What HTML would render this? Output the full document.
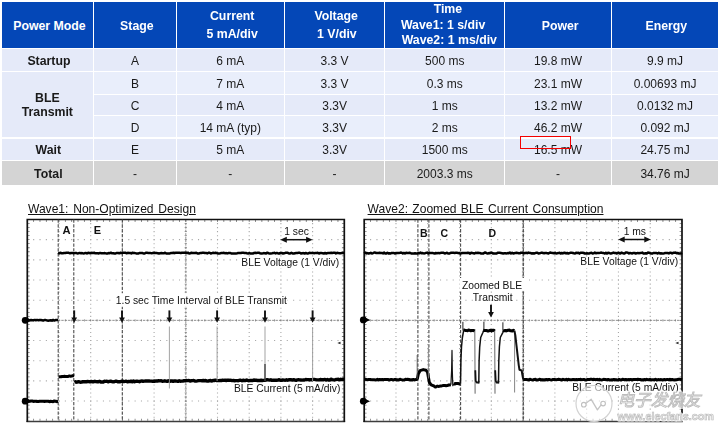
<!DOCTYPE html>
<html><head><meta charset="utf-8"><title>BLE power table</title>
<style>
html,body{margin:0;padding:0;background:#fff;}
body{width:718px;height:427px;position:relative;overflow:hidden;font-family:"Liberation Sans","Noto Sans CJK SC",sans-serif;color:#111;}
.c{position:absolute;display:flex;align-items:center;justify-content:center;text-align:center;font-size:12px;line-height:14.5px;color:#1a1a1a;}
.c.h{color:#fff;font-weight:bold;line-height:16.2px;font-size:12.3px;}
.c.b{font-weight:bold;font-size:12.3px;}
.c.bt{line-height:14.6px;}
.ttl{position:absolute;font-size:12.05px;word-spacing:1.45px;color:#111;text-decoration:underline;white-space:nowrap;line-height:14px;}
svg{position:absolute;left:0;top:0;}
.g{stroke:#a8a8a8;stroke-width:1.1;}
.tk{stroke:#777;}
.cl{stroke:#858585;stroke-width:0.9;stroke-dasharray:2.4 1.0;}
.bx{fill:none;stroke:#111;stroke-width:1.7;}
.d{stroke:#444;stroke-width:1.05;stroke-dasharray:3.3 1.5;}
.w{fill:none;stroke:#000;stroke-linejoin:round;}
.s{font-size:10.3px;fill:#111;font-family:"Liberation Sans",sans-serif;}
.sb{font-size:10.5px;font-weight:bold;fill:#111;font-family:"Liberation Sans",sans-serif;}
.red{position:absolute;left:519.9px;top:136px;width:48.8px;height:11.4px;border:1.6px solid #f40000;}
.wm{position:absolute;color:#b9b9b9;white-space:nowrap;}
#wrap{position:absolute;left:0;top:0;width:718px;height:427px;filter:blur(0.38px);}
</style></head><body><div id="wrap">
<div class="c h" style="left:2.4px;top:2px;width:90.7px;height:45.8px;background:#0447B7;line-height:16px"><span style="position:relative;top:1.0px;left:0px"><span style="display:block;position:relative;left:1.7px">Power Mode</span></span></div><div class="c h" style="left:94.37px;top:2px;width:81.4px;height:45.8px;background:#0447B7;line-height:16px"><span style="position:relative;top:1.0px;left:0px"><span style="display:block;position:relative;left:1.8px">Stage</span></span></div><div class="c h" style="left:176.97px;top:2px;width:106.7px;height:45.8px;background:#0447B7;line-height:17.3px"><span style="position:relative;top:0.9px;left:0px"><span style="display:block;position:relative;left:1.9px">Current</span><span style="display:block;position:relative;left:1.8px">5 mA/div</span></span></div><div class="c h" style="left:284.92px;top:2px;width:99.3px;height:45.8px;background:#0447B7;line-height:17.3px"><span style="position:relative;top:0.9px;left:0px"><span style="display:block;position:relative;left:1.6px">Voltage</span><span style="display:block;position:relative;left:2.3px">1 V/div</span></span></div><div class="c h" style="left:385.47px;top:2px;width:118.5px;height:45.8px;background:#0447B7;line-height:15.9px"><span style="position:relative;top:0.6px;left:0px"><span style="display:block;position:relative;left:3.2px">Time</span><span style="display:block;position:relative;left:-1.6px">Wave1: 1 s/div</span><span style="display:block;position:relative;left:4.6px">Wave2: 1 ms/div</span></span></div><div class="c h" style="left:505.17px;top:2px;width:105.7px;height:45.8px;background:#0447B7;line-height:16px"><span style="position:relative;top:1.0px;left:0px"><span style="display:block;position:relative;left:2.2px">Power</span></span></div><div class="c h" style="left:612.12px;top:2px;width:105.9px;height:45.8px;background:#0447B7;line-height:16px"><span style="position:relative;top:1.0px;left:0px"><span style="display:block;position:relative;left:1.3px">Energy</span></span></div><div class="c b" style="left:2.4px;top:49.169999999999995px;width:90.7px;height:21.4px;background:#E5EAF9"><span style="position:relative;top:1.55px;left:1.2px">Startup</span></div><div class="c b bt" style="left:2.4px;top:71.82000000000001px;width:90.7px;height:65.6px;background:#E5EAF9"><span style="position:relative;top:0.8px;left:-0.4px">BLE<br>Transmit</span></div><div class="c b" style="left:2.4px;top:138.62px;width:90.7px;height:21.6px;background:#E5EAF9"><span style="position:relative;top:0.6px;left:0.6px">Wait</span></div><div class="c b" style="left:2.4px;top:161.42000000000002px;width:90.7px;height:24.0px;background:#D4D4D4"><span style="position:relative;top:0.8px;left:0.6px">Total</span></div><div class="c " style="left:94.37px;top:49.169999999999995px;width:81.4px;height:21.4px;background:#E5EAF9"><span style="position:relative;top:1.45px;left:0px">A</span></div><div class="c " style="left:176.97px;top:49.169999999999995px;width:106.7px;height:21.4px;background:#E5EAF9"><span style="position:relative;top:1.45px;left:0px">6 mA</span></div><div class="c " style="left:284.92px;top:49.169999999999995px;width:99.3px;height:21.4px;background:#E5EAF9"><span style="position:relative;top:1.45px;left:0px">3.3 V</span></div><div class="c " style="left:385.47px;top:49.169999999999995px;width:118.5px;height:21.4px;background:#E5EAF9"><span style="position:relative;top:1.45px;left:0px">500 ms</span></div><div class="c " style="left:505.17px;top:49.169999999999995px;width:105.7px;height:21.4px;background:#E5EAF9"><span style="position:relative;top:1.45px;left:0px">19.8 mW</span></div><div class="c " style="left:612.12px;top:49.169999999999995px;width:105.9px;height:21.4px;background:#E5EAF9"><span style="position:relative;top:1.45px;left:0px">9.9 mJ</span></div><div class="c " style="left:94.37px;top:71.82000000000001px;width:81.4px;height:22.2px;background:#E9EEFB"><span style="position:relative;top:1.0px;left:0px">B</span></div><div class="c " style="left:176.97px;top:71.82000000000001px;width:106.7px;height:22.2px;background:#E9EEFB"><span style="position:relative;top:1.0px;left:0px">7 mA</span></div><div class="c " style="left:284.92px;top:71.82000000000001px;width:99.3px;height:22.2px;background:#E9EEFB"><span style="position:relative;top:1.0px;left:0px">3.3 V</span></div><div class="c " style="left:385.47px;top:71.82000000000001px;width:118.5px;height:22.2px;background:#E9EEFB"><span style="position:relative;top:1.0px;left:0px">0.3 ms</span></div><div class="c " style="left:505.17px;top:71.82000000000001px;width:105.7px;height:22.2px;background:#E9EEFB"><span style="position:relative;top:1.0px;left:0px">23.1 mW</span></div><div class="c " style="left:612.12px;top:71.82000000000001px;width:105.9px;height:22.2px;background:#E9EEFB"><span style="position:relative;top:1.0px;left:0px">0.00693 mJ</span></div><div class="c " style="left:94.37px;top:95.22px;width:81.4px;height:19.7px;background:#E5EAF9"><span style="position:relative;top:1.45px;left:0px">C</span></div><div class="c " style="left:176.97px;top:95.22px;width:106.7px;height:19.7px;background:#E5EAF9"><span style="position:relative;top:1.45px;left:0px">4 mA</span></div><div class="c " style="left:284.92px;top:95.22px;width:99.3px;height:19.7px;background:#E5EAF9"><span style="position:relative;top:1.45px;left:0px">3.3V</span></div><div class="c " style="left:385.47px;top:95.22px;width:118.5px;height:19.7px;background:#E5EAF9"><span style="position:relative;top:1.45px;left:0px">1 ms</span></div><div class="c " style="left:505.17px;top:95.22px;width:105.7px;height:19.7px;background:#E5EAF9"><span style="position:relative;top:1.45px;left:0px">13.2 mW</span></div><div class="c " style="left:612.12px;top:95.22px;width:105.9px;height:19.7px;background:#E5EAF9"><span style="position:relative;top:1.45px;left:0px">0.0132 mJ</span></div><div class="c " style="left:94.37px;top:116.12px;width:81.4px;height:21.3px;background:#E9EEFB"><span style="position:relative;top:1.1px;left:0px">D</span></div><div class="c " style="left:176.97px;top:116.12px;width:106.7px;height:21.3px;background:#E9EEFB"><span style="position:relative;top:1.1px;left:0px">14 mA (typ)</span></div><div class="c " style="left:284.92px;top:116.12px;width:99.3px;height:21.3px;background:#E9EEFB"><span style="position:relative;top:1.1px;left:0px">3.3V</span></div><div class="c " style="left:385.47px;top:116.12px;width:118.5px;height:21.3px;background:#E9EEFB"><span style="position:relative;top:1.1px;left:0px">2 ms</span></div><div class="c " style="left:505.17px;top:116.12px;width:105.7px;height:21.3px;background:#E9EEFB"><span style="position:relative;top:1.1px;left:0px">46.2 mW</span></div><div class="c " style="left:612.12px;top:116.12px;width:105.9px;height:21.3px;background:#E9EEFB"><span style="position:relative;top:1.1px;left:0px">0.092 mJ</span></div><div class="c " style="left:94.37px;top:138.62px;width:81.4px;height:21.6px;background:#E5EAF9"><span style="position:relative;top:0.7px;left:0px">E</span></div><div class="c " style="left:176.97px;top:138.62px;width:106.7px;height:21.6px;background:#E5EAF9"><span style="position:relative;top:0.7px;left:0px">5 mA</span></div><div class="c " style="left:284.92px;top:138.62px;width:99.3px;height:21.6px;background:#E5EAF9"><span style="position:relative;top:0.7px;left:0px">3.3V</span></div><div class="c " style="left:385.47px;top:138.62px;width:118.5px;height:21.6px;background:#E5EAF9"><span style="position:relative;top:0.7px;left:0px">1500 ms</span></div><div class="c " style="left:505.17px;top:138.62px;width:105.7px;height:21.6px;background:#E5EAF9"><span style="position:relative;top:0.7px;left:0px">16.5 mW</span></div><div class="c " style="left:612.12px;top:138.62px;width:105.9px;height:21.6px;background:#E5EAF9"><span style="position:relative;top:0.7px;left:0px">24.75 mJ</span></div><div class="c " style="left:94.37px;top:161.42000000000002px;width:81.4px;height:24.0px;background:#D4D4D4"><span style="position:relative;top:1.1px;left:0px">-</span></div><div class="c " style="left:176.97px;top:161.42000000000002px;width:106.7px;height:24.0px;background:#D4D4D4"><span style="position:relative;top:1.1px;left:0px">-</span></div><div class="c " style="left:284.92px;top:161.42000000000002px;width:99.3px;height:24.0px;background:#D4D4D4"><span style="position:relative;top:1.1px;left:0px">-</span></div><div class="c " style="left:385.47px;top:161.42000000000002px;width:118.5px;height:24.0px;background:#D4D4D4"><span style="position:relative;top:1.1px;left:0px">2003.3 ms</span></div><div class="c " style="left:505.17px;top:161.42000000000002px;width:105.7px;height:24.0px;background:#D4D4D4"><span style="position:relative;top:1.1px;left:0px">-</span></div><div class="c " style="left:612.12px;top:161.42000000000002px;width:105.9px;height:24.0px;background:#D4D4D4"><span style="position:relative;top:1.1px;left:0px">34.76 mJ</span></div>
<div class="red"></div>
<div class="ttl" style="left:28px;top:202px;">Wave1: Non-Optimized Design</div>
<div class="ttl" style="left:367.6px;top:202px;word-spacing:1.0px;">Wave2: Zoomed BLE Current Consumption</div>
<svg width="718" height="427" viewBox="0 0 718 427">
<line x1="59.00" y1="219.00" x2="59.00" y2="421.2" class="g" stroke-dasharray="1.1 2.934"/>
<line x1="26.80" y1="239.67" x2="344.3" y2="239.67" class="g" stroke-dasharray="1.1 5.240"/>
<line x1="90.70" y1="219.00" x2="90.70" y2="421.2" class="g" stroke-dasharray="1.1 2.934"/>
<line x1="26.80" y1="259.84" x2="344.3" y2="259.84" class="g" stroke-dasharray="1.1 5.240"/>
<line x1="122.40" y1="219.00" x2="122.40" y2="421.2" class="g" stroke-dasharray="1.1 2.934"/>
<line x1="26.80" y1="280.01" x2="344.3" y2="280.01" class="g" stroke-dasharray="1.1 5.240"/>
<line x1="154.10" y1="219.00" x2="154.10" y2="421.2" class="g" stroke-dasharray="1.1 2.934"/>
<line x1="26.80" y1="300.18" x2="344.3" y2="300.18" class="g" stroke-dasharray="1.1 5.240"/>
<line x1="217.50" y1="219.00" x2="217.50" y2="421.2" class="g" stroke-dasharray="1.1 2.934"/>
<line x1="26.80" y1="340.52" x2="344.3" y2="340.52" class="g" stroke-dasharray="1.1 5.240"/>
<line x1="249.20" y1="219.00" x2="249.20" y2="421.2" class="g" stroke-dasharray="1.1 2.934"/>
<line x1="26.80" y1="360.69" x2="344.3" y2="360.69" class="g" stroke-dasharray="1.1 5.240"/>
<line x1="280.90" y1="219.00" x2="280.90" y2="421.2" class="g" stroke-dasharray="1.1 2.934"/>
<line x1="26.80" y1="380.86" x2="344.3" y2="380.86" class="g" stroke-dasharray="1.1 5.240"/>
<line x1="312.60" y1="219.00" x2="312.60" y2="421.2" class="g" stroke-dasharray="1.1 2.934"/>
<line x1="26.80" y1="401.03" x2="344.3" y2="401.03" class="g" stroke-dasharray="1.1 5.240"/>
<line x1="27.3" y1="320.35" x2="344.3" y2="320.35" class="cl"/>
<line x1="185.80" y1="219.5" x2="185.80" y2="421.2" class="cl"/>
<line x1="26.90" y1="320.35" x2="344.3" y2="320.35" class="tk" stroke-width="2.4" stroke-opacity="0.8" stroke-dasharray="0.8 5.540"/>
<line x1="185.80" y1="219.10" x2="185.80" y2="421.2" class="tk" stroke-width="2.4" stroke-opacity="0.8" stroke-dasharray="0.8 3.234"/>
<line x1="26.90" y1="220.90" x2="344.3" y2="220.90" class="tk" stroke-width="2.0" stroke-dasharray="0.8 5.540"/>
<line x1="26.90" y1="419.80" x2="344.3" y2="419.80" class="tk" stroke-width="2.0" stroke-dasharray="0.8 5.540"/>
<line x1="28.70" y1="219.10" x2="28.70" y2="421.2" class="tk" stroke-width="2.0" stroke-dasharray="0.8 3.234"/>
<line x1="342.90" y1="219.10" x2="342.90" y2="421.2" class="tk" stroke-width="2.0" stroke-dasharray="0.8 3.234"/>
<line x1="26.45" y1="421.5" x2="345.15000000000003" y2="421.5" stroke="#3c3c3c" stroke-width="1.4"/>
<path d="M27.3,422.09999999999997 L27.3,219.5 L344.3,219.5 L344.3,422.09999999999997" class="bx"/>
<line x1="58.2" y1="219.5" x2="58.2" y2="421.2" class="d"/>
<line x1="73.8" y1="219.5" x2="73.8" y2="421.2" class="d"/>
<line x1="122.3" y1="219.5" x2="122.3" y2="421.2" class="d"/>
<path d="M27.3,320.2 L28.5,320.0 L29.8,320.4 L31.0,320.0 L32.2,320.3 L33.4,320.2 L34.7,319.9 L35.9,320.3 L37.1,319.9 L38.4,320.2 L39.6,320.0 L40.8,320.0 L42.0,320.2 L43.3,320.6 L44.5,320.0 L45.7,320.1 L46.9,320.4 L48.2,320.7 L49.4,320.4 L50.6,320.2 L51.9,320.7 L53.1,319.9 L54.3,320.6 L55.5,320.1 L56.8,320.0 L58.0,320.0" class="w" style="stroke-width:2.5;stroke:#000"/>
<path d="M58.0,252.9 L59.2,253.4 L60.4,252.8 L61.6,253.2 L62.8,253.2 L64.0,253.0 L65.2,253.1 L66.4,252.7 L67.6,252.7 L68.8,252.8 L70.0,253.3 L71.2,253.0 L72.4,252.9 L73.6,253.2 L74.8,253.1 L76.0,252.9 L77.2,253.4 L78.5,253.3 L79.7,252.9 L80.9,253.2 L82.1,253.1 L83.3,253.4 L84.5,253.3 L85.7,252.9 L86.9,253.5 L88.1,252.8 L89.3,253.0 L90.5,253.3 L91.7,252.8 L92.9,253.1 L94.1,252.7 L95.3,253.3 L96.5,253.3 L97.7,253.2 L98.9,253.4 L100.1,252.9 L101.3,253.3 L102.5,253.2 L103.7,253.2 L104.9,253.1 L106.1,253.4 L107.3,253.5 L108.5,253.1 L109.7,253.2 L110.9,252.7 L112.1,253.3 L113.3,253.2 L114.5,253.5 L115.7,253.4 L116.9,252.9 L118.1,253.0 L119.3,253.3 L120.6,252.7 L121.8,253.1 L123.0,252.8 L124.2,252.8 L125.4,252.7 L126.6,253.3 L127.8,252.8 L129.0,252.9 L130.2,253.0 L131.4,253.4 L132.6,252.7 L133.8,253.1 L135.0,253.1 L136.2,253.4 L137.4,253.4 L138.6,253.4 L139.8,252.9 L141.0,253.0 L142.2,253.0 L143.4,253.4 L144.6,253.5 L145.8,252.8 L147.0,252.8 L148.2,252.9 L149.4,252.9 L150.6,253.1 L151.8,253.2 L153.0,252.9 L154.2,252.7 L155.4,253.0 L156.6,253.0 L157.8,253.2 L159.0,253.5 L160.2,253.3 L161.5,253.1 L162.7,253.2 L163.9,253.3 L165.1,252.7 L166.3,253.5 L167.5,253.4 L168.7,253.4 L169.9,253.4 L171.1,253.0 L172.3,253.0 L173.5,252.7 L174.7,253.2 L175.9,252.7 L177.1,252.7 L178.3,252.8 L179.5,252.8 L180.7,253.0 L181.9,252.7 L183.1,252.7 L184.3,252.8 L185.5,252.7 L186.7,253.0 L187.9,252.7 L189.1,253.4 L190.3,253.2 L191.5,252.8 L192.7,252.9 L193.9,253.0 L195.1,253.0 L196.3,252.8 L197.5,253.4 L198.7,253.5 L199.9,253.1 L201.2,253.1 L202.4,252.7 L203.6,252.7 L204.8,253.0 L206.0,252.9 L207.2,253.4 L208.4,252.8 L209.6,252.7 L210.8,253.5 L212.0,253.1 L213.2,252.8 L214.4,253.1 L215.6,252.7 L216.8,253.1 L218.0,253.5 L219.2,253.4 L220.4,253.3 L221.6,252.9 L222.8,253.0 L224.0,252.8 L225.2,253.3 L226.4,253.1 L227.6,253.4 L228.8,252.9 L230.0,252.9 L231.2,253.4 L232.4,253.5 L233.6,253.4 L234.8,253.4 L236.0,253.4 L237.2,253.3 L238.4,252.9 L239.6,253.1 L240.8,253.0 L242.1,252.7 L243.3,252.7 L244.5,252.9 L245.7,252.9 L246.9,253.3 L248.1,253.5 L249.3,253.1 L250.5,253.5 L251.7,253.5 L252.9,253.5 L254.1,253.0 L255.3,252.8 L256.5,252.9 L257.7,252.8 L258.9,252.8 L260.1,253.2 L261.3,253.5 L262.5,253.4 L263.7,253.1 L264.9,253.2 L266.1,253.4 L267.3,252.7 L268.5,253.2 L269.7,253.5 L270.9,253.4 L272.1,253.3 L273.3,253.1 L274.5,252.8 L275.7,253.4 L276.9,252.9 L278.1,253.4 L279.3,253.5 L280.5,253.0 L281.7,253.0 L283.0,253.5 L284.2,253.3 L285.4,252.8 L286.6,252.8 L287.8,252.8 L289.0,253.5 L290.2,253.4 L291.4,252.8 L292.6,253.4 L293.8,253.5 L295.0,253.2 L296.2,253.0 L297.4,253.1 L298.6,252.8 L299.8,252.7 L301.0,253.5 L302.2,253.2 L303.4,253.1 L304.6,253.5 L305.8,253.0 L307.0,253.4 L308.2,253.4 L309.4,252.8 L310.6,252.9 L311.8,252.9 L313.0,252.9 L314.2,253.2 L315.4,252.9 L316.6,253.0 L317.8,252.8 L319.0,253.5 L320.2,253.0 L321.4,253.1 L322.6,253.2 L323.9,253.5 L325.1,253.0 L326.3,253.5 L327.5,253.1 L328.7,253.1 L329.9,253.1 L331.1,252.7 L332.3,253.0 L333.5,252.8 L334.7,252.7 L335.9,253.4 L337.1,252.8 L338.3,253.1 L339.5,253.3 L340.7,253.2 L341.9,252.9 L343.1,253.1 L344.3,253.1" class="w" style="stroke-width:2.5;stroke:#000"/>
<path d="M27.3,401.4 L28.5,400.9 L29.8,401.2 L31.0,401.0 L32.2,401.0 L33.4,401.4 L34.7,401.2 L35.9,401.2 L37.1,401.4 L38.4,401.5 L39.6,401.2 L40.8,401.3 L42.0,401.2 L43.3,401.2 L44.5,401.4 L45.7,401.2 L46.9,401.2 L48.2,401.2 L49.4,401.6 L50.6,401.4 L51.9,401.5 L53.1,401.6 L54.3,401.0 L55.5,401.2 L56.8,401.6 L58.0,401.5" class="w" style="stroke-width:3.1;stroke:#000"/>
<path d="M58.6,376.9 L59.8,376.8 L61.0,376.8 L62.2,376.5 L63.4,376.5 L64.6,376.3 L65.8,376.6 L67.0,376.5 L68.2,376.5 L69.4,375.9 L70.6,376.2 L71.8,376.0 L73.0,375.6 L74.2,375.9" class="w" style="stroke-width:3.0;stroke:#000"/>
<path d="M74.4,382.3 L75.6,381.7 L76.8,382.2 L78.0,381.8 L79.2,381.8 L80.4,382.2 L81.6,382.1 L82.8,381.6 L84.0,381.8 L85.2,381.8 L86.4,381.7 L87.7,381.5 L88.9,381.6 L90.1,381.9 L91.3,381.4 L92.5,381.8 L93.7,381.7 L94.9,381.3 L96.1,381.6 L97.3,381.8 L98.5,381.7 L99.7,381.3 L100.9,382.1 L102.1,381.9 L103.3,382.0 L104.5,381.3 L105.7,381.4 L106.9,381.2 L108.1,381.8 L109.3,381.4 L110.5,381.3 L111.8,381.5 L113.0,381.9 L114.2,381.8 L115.4,381.3 L116.6,381.2 L117.8,381.8 L119.0,381.6 L120.2,381.7 L121.4,381.2 L122.6,381.1 L123.8,381.6 L125.0,381.4 L126.2,381.1 L127.4,381.8 L128.6,381.5 L129.8,381.6 L131.0,381.1 L132.2,381.7 L133.4,381.0 L134.6,381.7 L135.9,381.3 L137.1,381.2 L138.3,381.4 L139.5,381.7 L140.7,381.1 L141.9,381.0 L143.1,381.3 L144.3,381.1 L145.5,381.0 L146.7,381.0 L147.9,380.9 L149.1,381.0 L150.3,381.1 L151.5,381.1 L152.7,381.4 L153.9,381.0 L155.1,381.2 L156.3,380.9 L157.5,381.0 L158.7,380.8 L159.9,380.9 L161.2,380.7 L162.4,381.3 L163.6,381.1 L164.8,380.8 L166.0,381.1 L167.2,381.4 L168.4,380.7 L169.6,381.3 L170.8,381.0 L172.0,381.0 L173.2,381.3 L174.4,380.9 L175.6,381.0 L176.8,381.1 L178.0,381.4 L179.2,380.8 L180.4,381.2 L181.6,381.1 L182.8,381.0 L184.0,380.8 L185.3,380.8 L186.5,380.5 L187.7,380.6 L188.9,380.5 L190.1,381.1 L191.3,380.7 L192.5,380.6 L193.7,380.5 L194.9,381.1 L196.1,381.1 L197.3,380.9 L198.5,380.6 L199.7,380.6 L200.9,380.6 L202.1,380.7 L203.3,380.5 L204.5,380.7 L205.7,380.5 L206.9,381.1 L208.1,381.1 L209.3,380.7 L210.6,380.5 L211.8,381.1 L213.0,380.5 L214.2,380.5 L215.4,380.2 L216.6,380.5 L217.8,380.6 L219.0,380.6 L220.2,380.4 L221.4,380.6 L222.6,380.2 L223.8,380.4 L225.0,380.2 L226.2,380.5 L227.4,380.2 L228.6,380.1 L229.8,380.4 L231.0,380.3 L232.2,380.6 L233.4,380.5 L234.7,380.7 L235.9,380.6 L237.1,380.6 L238.3,380.7 L239.5,380.3 L240.7,380.3 L241.9,380.8 L243.1,380.1 L244.3,380.6 L245.5,380.5 L246.7,380.0 L247.9,380.6 L249.1,380.7 L250.3,380.4 L251.5,380.5 L252.7,380.6 L253.9,380.0 L255.1,380.3 L256.3,380.3 L257.5,380.5 L258.8,380.5 L260.0,380.5 L261.2,380.3 L262.4,380.5 L263.6,380.4 L264.8,380.4 L266.0,380.0 L267.2,379.8 L268.4,379.9 L269.6,380.1 L270.8,379.8 L272.0,380.4 L273.2,380.2 L274.4,380.2 L275.6,380.2 L276.8,380.2 L278.0,380.1 L279.2,379.7 L280.4,380.3 L281.6,380.3 L282.8,380.0 L284.1,380.1 L285.3,380.2 L286.5,379.7 L287.7,380.2 L288.9,379.8 L290.1,379.6 L291.3,379.8 L292.5,380.1 L293.7,379.7 L294.9,380.1 L296.1,380.3 L297.3,379.9 L298.5,379.8 L299.7,379.9 L300.9,380.0 L302.1,380.1 L303.3,380.0 L304.5,380.0 L305.7,379.5 L306.9,379.6 L308.2,379.6 L309.4,380.0 L310.6,379.6 L311.8,379.8 L313.0,379.4 L314.2,379.4 L315.4,379.6 L316.6,379.9 L317.8,379.9 L319.0,379.9 L320.2,379.5 L321.4,379.7 L322.6,379.7 L323.8,379.7 L325.0,379.4 L326.2,380.0 L327.4,379.4 L328.6,380.0 L329.8,380.0 L331.0,379.2 L332.3,379.6 L333.5,379.9 L334.7,380.0 L335.9,379.5 L337.1,379.4 L338.3,379.3 L339.5,379.9 L340.7,379.3 L341.9,379.6 L343.1,379.2 L344.3,379.5" class="w" style="stroke-width:3.4;stroke:#000"/>
<line x1="169.4" y1="326.5" x2="169.4" y2="388.5" stroke="#999" stroke-width="0.9"/>
<line x1="217.1" y1="326.5" x2="217.1" y2="381.0" stroke="#999" stroke-width="0.9"/>
<line x1="265.0" y1="326.5" x2="265.0" y2="381.0" stroke="#999" stroke-width="0.9"/>
<line x1="312.6" y1="327.0" x2="312.6" y2="381.0" stroke="#999" stroke-width="0.9"/>
<line x1="265.0" y1="364.0" x2="265.0" y2="381.0" stroke="#222" stroke-width="1.1"/>
<line x1="74.2" y1="310.4" x2="74.2" y2="319.8" stroke="#111" stroke-width="1.9"/><polygon points="74.2,322.8 71.3,317.40000000000003 77.10000000000001,317.40000000000003" fill="#111"/>
<line x1="122.0" y1="310.4" x2="122.0" y2="319.8" stroke="#111" stroke-width="1.9"/><polygon points="122.0,322.8 119.1,317.40000000000003 124.9,317.40000000000003" fill="#111"/>
<line x1="169.4" y1="310.4" x2="169.4" y2="319.8" stroke="#111" stroke-width="1.9"/><polygon points="169.4,322.8 166.5,317.40000000000003 172.3,317.40000000000003" fill="#111"/>
<line x1="217.1" y1="310.4" x2="217.1" y2="319.8" stroke="#111" stroke-width="1.9"/><polygon points="217.1,322.8 214.2,317.40000000000003 220.0,317.40000000000003" fill="#111"/>
<line x1="265.0" y1="310.4" x2="265.0" y2="319.8" stroke="#111" stroke-width="1.9"/><polygon points="265.0,322.8 262.1,317.40000000000003 267.9,317.40000000000003" fill="#111"/>
<line x1="312.6" y1="310.4" x2="312.6" y2="319.8" stroke="#111" stroke-width="1.9"/><polygon points="312.6,322.8 309.70000000000005,317.40000000000003 315.5,317.40000000000003" fill="#111"/>
<circle cx="25.2" cy="320.3" r="3.4" fill="#000"/><polygon points="26.2,317.5 32.0,320.3 26.2,323.1" fill="#000"/>
<circle cx="25.2" cy="401.2" r="3.4" fill="#000"/><polygon points="26.2,398.4 32.0,401.2 26.2,404.0" fill="#000"/>
<line x1="283.3" y1="239.7" x2="309.6" y2="239.7" stroke="#111" stroke-width="1.5"/><polygon points="280.3,239.7 286.8,236.7 286.8,242.7" fill="#111"/><polygon points="312.6,239.7 306.1,236.7 306.1,242.7" fill="#111"/>
<text x="296.5" y="234.8" class="s" text-anchor="middle">1 sec</text>
<rect x="240" y="257.2" width="100" height="11" fill="#fff"/>
<text x="339.2" y="265.6" class="s" text-anchor="end">BLE Voltage (1 V/div)</text>
<rect x="234.5" y="383" width="106" height="11" fill="#fff"/>
<text x="340.4" y="391.9" class="s" text-anchor="end">BLE Current (5 mA/div)</text>
<rect x="114.5" y="293.2" width="173" height="13.6" fill="#fff"/>
<text x="115.8" y="303.7" class="s">1.5 sec Time Interval of BLE Transmit</text>
<text x="66.5" y="234.2" class="sb" style="font-size:11.2px" text-anchor="middle">A</text>
<text x="97.5" y="233.8" class="sb" style="font-size:11px" text-anchor="middle">E</text>
<polygon points="337.3,343 340.5,341.7 340.5,344.3" fill="#222"/>
<line x1="395.98" y1="219.00" x2="395.98" y2="421.2" class="g" stroke-dasharray="1.1 2.934"/>
<line x1="363.70" y1="239.67" x2="682.0" y2="239.67" class="g" stroke-dasharray="1.1 5.256"/>
<line x1="427.76" y1="219.00" x2="427.76" y2="421.2" class="g" stroke-dasharray="1.1 2.934"/>
<line x1="363.70" y1="259.84" x2="682.0" y2="259.84" class="g" stroke-dasharray="1.1 5.256"/>
<line x1="459.54" y1="219.00" x2="459.54" y2="421.2" class="g" stroke-dasharray="1.1 2.934"/>
<line x1="363.70" y1="280.01" x2="682.0" y2="280.01" class="g" stroke-dasharray="1.1 5.256"/>
<line x1="491.32" y1="219.00" x2="491.32" y2="421.2" class="g" stroke-dasharray="1.1 2.934"/>
<line x1="363.70" y1="300.18" x2="682.0" y2="300.18" class="g" stroke-dasharray="1.1 5.256"/>
<line x1="554.88" y1="219.00" x2="554.88" y2="421.2" class="g" stroke-dasharray="1.1 2.934"/>
<line x1="363.70" y1="340.52" x2="682.0" y2="340.52" class="g" stroke-dasharray="1.1 5.256"/>
<line x1="586.66" y1="219.00" x2="586.66" y2="421.2" class="g" stroke-dasharray="1.1 2.934"/>
<line x1="363.70" y1="360.69" x2="682.0" y2="360.69" class="g" stroke-dasharray="1.1 5.256"/>
<line x1="618.44" y1="219.00" x2="618.44" y2="421.2" class="g" stroke-dasharray="1.1 2.934"/>
<line x1="363.70" y1="380.86" x2="682.0" y2="380.86" class="g" stroke-dasharray="1.1 5.256"/>
<line x1="650.22" y1="219.00" x2="650.22" y2="421.2" class="g" stroke-dasharray="1.1 2.934"/>
<line x1="363.70" y1="401.03" x2="682.0" y2="401.03" class="g" stroke-dasharray="1.1 5.256"/>
<line x1="364.2" y1="320.35" x2="682.0" y2="320.35" class="cl"/>
<line x1="523.10" y1="219.5" x2="523.10" y2="421.2" class="cl"/>
<line x1="363.80" y1="320.35" x2="682.0" y2="320.35" class="tk" stroke-width="2.4" stroke-opacity="0.8" stroke-dasharray="0.8 5.556"/>
<line x1="523.10" y1="219.10" x2="523.10" y2="421.2" class="tk" stroke-width="2.4" stroke-opacity="0.8" stroke-dasharray="0.8 3.234"/>
<line x1="363.80" y1="220.90" x2="682.0" y2="220.90" class="tk" stroke-width="2.0" stroke-dasharray="0.8 5.556"/>
<line x1="363.80" y1="419.80" x2="682.0" y2="419.80" class="tk" stroke-width="2.0" stroke-dasharray="0.8 5.556"/>
<line x1="365.60" y1="219.10" x2="365.60" y2="421.2" class="tk" stroke-width="2.0" stroke-dasharray="0.8 3.234"/>
<line x1="680.60" y1="219.10" x2="680.60" y2="421.2" class="tk" stroke-width="2.0" stroke-dasharray="0.8 3.234"/>
<line x1="363.34999999999997" y1="421.5" x2="682.85" y2="421.5" stroke="#3c3c3c" stroke-width="1.4"/>
<path d="M364.2,422.09999999999997 L364.2,219.5 L682.0,219.5 L682.0,422.09999999999997" class="bx"/>
<line x1="417.9" y1="219.5" x2="417.9" y2="421.2" class="d"/>
<line x1="428.9" y1="219.5" x2="428.9" y2="421.2" class="d"/>
<line x1="460.6" y1="219.5" x2="460.6" y2="421.2" class="d"/>
<line x1="523.3" y1="219.5" x2="523.3" y2="421.2" class="d"/>
<path d="M364.2,253.6 L365.3,252.7 L366.4,253.4 L367.5,253.1 L368.6,253.5 L369.7,253.3 L370.8,252.8 L371.9,253.5 L373.0,253.1 L374.1,252.6 L375.2,252.6 L376.3,253.1 L377.4,253.1 L378.5,252.9 L379.6,252.7 L380.8,252.9 L381.9,252.9 L383.0,253.4 L384.1,252.6 L385.2,253.4 L386.3,253.4 L387.4,252.7 L388.5,253.5 L389.6,253.3 L390.7,253.5 L391.8,252.9 L392.9,253.0 L394.0,253.0 L395.1,253.6 L396.2,253.2 L397.3,253.0 L398.4,253.0 L399.5,252.9 L400.6,252.6 L401.7,252.7 L402.8,253.4 L403.9,252.9 L405.0,253.5 L406.1,252.8 L407.2,252.9 L408.3,253.1 L409.4,252.8 L410.5,253.0 L411.6,253.6 L412.8,253.5 L413.9,253.4 L415.0,253.2 L416.1,253.5 L417.2,253.5 L418.3,253.1 L419.4,253.3 L420.5,252.6 L421.6,253.3 L422.7,253.1 L423.8,253.4 L424.9,253.2 L426.0,252.9 L427.1,252.6 L428.2,253.5 L429.3,252.7 L430.4,253.1 L431.5,252.9 L432.6,252.9 L433.7,253.3 L434.8,253.6 L435.9,252.9 L437.0,253.3 L438.1,252.9 L439.2,253.2 L440.3,253.0 L441.4,252.8 L442.5,252.8 L443.6,252.8 L444.8,253.5 L445.9,253.1 L447.0,252.8 L448.1,253.5 L449.2,253.6 L450.3,253.0 L451.4,252.7 L452.5,252.8 L453.6,252.7 L454.7,252.9 L455.8,252.7 L456.9,252.8 L458.0,252.9 L459.1,253.2 L460.2,253.5 L461.3,253.3 L462.4,253.0 L463.5,253.0 L464.6,253.1 L465.7,253.0 L466.8,252.9 L467.9,252.7 L469.0,252.9 L470.1,253.6 L471.2,252.7 L472.3,253.1 L473.4,253.2 L474.5,253.5 L475.7,252.8 L476.8,252.9 L477.9,252.8 L479.0,253.0 L480.1,253.0 L481.2,253.6 L482.3,253.4 L483.4,253.5 L484.5,252.6 L485.6,252.6 L486.7,253.3 L487.8,253.5 L488.9,253.1 L490.0,253.2 L491.1,252.6 L492.2,253.0 L493.3,253.5 L494.4,253.4 L495.5,253.5 L496.6,253.6 L497.7,252.8 L498.8,252.7 L499.9,252.8 L501.0,253.1 L502.1,253.3 L503.2,253.5 L504.3,253.3 L505.4,253.2 L506.5,253.4 L507.7,253.1 L508.8,253.2 L509.9,252.6 L511.0,253.4 L512.1,252.8 L513.2,253.5 L514.3,253.2 L515.4,252.9 L516.5,252.7 L517.6,252.9 L518.7,253.2 L519.8,253.3 L520.9,252.7 L522.0,252.7 L523.1,253.1 L524.2,253.2 L525.3,253.0 L526.4,252.8 L527.5,253.2 L528.6,252.6 L529.7,252.9 L530.8,253.1 L531.9,253.6 L533.0,253.2 L534.1,253.5 L535.2,253.1 L536.3,252.8 L537.4,252.8 L538.5,253.6 L539.7,253.3 L540.8,252.9 L541.9,252.6 L543.0,253.1 L544.1,253.3 L545.2,253.0 L546.3,252.9 L547.4,253.3 L548.5,253.5 L549.6,252.8 L550.7,252.6 L551.8,252.9 L552.9,253.0 L554.0,253.3 L555.1,252.8 L556.2,253.4 L557.3,253.3 L558.4,253.1 L559.5,252.8 L560.6,253.6 L561.7,252.9 L562.8,253.4 L563.9,252.8 L565.0,252.8 L566.1,253.4 L567.2,252.9 L568.3,253.6 L569.4,253.1 L570.5,252.8 L571.7,252.8 L572.8,253.0 L573.9,253.3 L575.0,253.5 L576.1,252.7 L577.2,253.0 L578.3,252.8 L579.4,253.6 L580.5,252.7 L581.6,252.7 L582.7,252.7 L583.8,253.0 L584.9,253.5 L586.0,253.5 L587.1,253.3 L588.2,253.6 L589.3,253.5 L590.4,252.9 L591.5,252.8 L592.6,253.5 L593.7,253.3 L594.8,252.6 L595.9,253.3 L597.0,253.0 L598.1,253.0 L599.2,252.9 L600.3,252.8 L601.4,252.6 L602.5,252.9 L603.7,253.0 L604.8,253.6 L605.9,252.7 L607.0,253.6 L608.1,252.8 L609.2,253.0 L610.3,253.4 L611.4,253.4 L612.5,253.0 L613.6,252.6 L614.7,253.1 L615.8,253.0 L616.9,253.5 L618.0,252.8 L619.1,253.0 L620.2,253.5 L621.3,252.6 L622.4,253.0 L623.5,253.4 L624.6,253.4 L625.7,252.6 L626.8,252.6 L627.9,252.7 L629.0,253.5 L630.1,252.9 L631.2,253.3 L632.3,253.5 L633.4,252.9 L634.6,252.9 L635.7,253.6 L636.8,253.2 L637.9,252.9 L639.0,253.3 L640.1,252.9 L641.2,252.9 L642.3,252.6 L643.4,253.4 L644.5,253.5 L645.6,253.2 L646.7,253.5 L647.8,252.6 L648.9,252.8 L650.0,253.1 L651.1,253.6 L652.2,253.6 L653.3,253.0 L654.4,252.9 L655.5,253.0 L656.6,253.1 L657.7,253.5 L658.8,252.8 L659.9,253.4 L661.0,253.3 L662.1,253.4 L663.2,253.4 L664.3,253.2 L665.4,252.9 L666.6,252.9 L667.7,253.0 L668.8,253.4 L669.9,252.7 L671.0,252.8 L672.1,253.4 L673.2,252.8 L674.3,252.7 L675.4,252.6 L676.5,253.2 L677.6,252.9 L678.7,253.6 L679.8,253.5 L680.9,253.6 L682.0,252.9" class="w" style="stroke-width:2.5;stroke:#000"/>
<path d="M364.2,379.3 L365.3,379.3 L366.4,379.6 L367.6,379.8 L368.7,379.6 L369.8,379.4 L370.9,379.6 L372.0,379.7 L373.1,379.8 L374.3,379.8 L375.4,379.9 L376.5,379.8 L377.6,379.3 L378.7,379.9 L379.8,379.5 L381.0,379.7 L382.1,379.5 L383.2,379.8 L384.3,379.4 L385.4,379.4 L386.5,379.4 L387.7,379.4 L388.8,380.0 L389.9,379.7 L391.0,379.5 L392.1,379.6 L393.2,380.0 L394.4,379.6 L395.5,379.4 L396.6,379.9 L397.7,379.8 L398.8,380.0 L400.0,379.3 L401.1,379.6 L402.2,379.9 L403.3,379.9 L404.4,380.0 L405.5,379.3 L406.7,379.5 L407.8,379.3 L408.9,379.4 L410.0,380.0 L411.1,379.7 L412.2,380.0 L413.4,379.5 L414.5,379.9 L415.6,379.6 L416.7,379.5 L417.4,378.5 L418.4,373.8 L420.0,370.7 L423.3,369.6 L426.1,370.3 L427.5,372.1 L428.4,377.3 L429.4,382.5 L431.2,384.8 L434.3,386.2 L435.0,386.9 L436.1,386.9 L437.2,386.1 L438.3,386.4 L439.5,386.3 L440.6,385.9 L441.7,385.9 L442.8,385.6 L443.9,385.6 L445.0,385.5 L446.2,385.7 L447.3,385.6 L448.4,385.1 L449.5,384.9 L450.9,384.8" class="w" style="stroke-width:3.0;stroke:#000"/>
<line x1="417.2" y1="355.0" x2="417.2" y2="379.2" stroke="#555" stroke-width="0.9"/>
<line x1="428.4" y1="346.8" x2="428.4" y2="378.5" stroke="#888" stroke-width="0.9"/>
<path d="M450.9,384.8 L451.6,370.3 L452.0,350.4 L452.3,370.3 L452.8,385.7 L453.5,383.9" class="w" style="stroke-width:1.2;stroke:#111"/>
<path d="M453.5,383.7 L454.6,384.0 L455.8,383.5 L456.9,383.6 L458.0,383.5 L459.2,383.9 L460.3,383.7" class="w" style="stroke-width:3.0;stroke:#000"/>
<path d="M460.5,383.4 L460.9,360.9 L461.5,346.8 L462.4,337.5 L463.3,332.3 L463.8,330.7" class="w" style="stroke-width:1.5;stroke:#111"/>
<line x1="462.9" y1="321.8" x2="462.9" y2="330.7" stroke="#222" stroke-width="1.0"/>
<path d="M463.3,330.0 L464.4,330.1 L465.4,330.4 L466.5,330.6 L467.5,330.7 L468.5,330.1 L469.6,330.2 L470.6,330.8 L471.7,330.5 L472.7,330.4 L473.8,330.5 L474.8,331.1" class="w" style="stroke-width:3.0;stroke:#000"/>
<path d="M474.8,330.7 L475.0,370.3 L475.1,393.7" class="w" style="stroke-width:0.9;stroke:#555"/>
<path d="M475.3,370.3 L475.7,380.8 L476.7,382.7 L478.1,382.5 L478.8,380.8" class="w" style="stroke-width:1.8;stroke:#111"/>
<path d="M478.8,383.4 L479.1,360.9 L479.7,346.8 L480.7,337.5 L483.0,332.3 L483.5,330.7" class="w" style="stroke-width:1.5;stroke:#111"/>
<line x1="483.9" y1="321.6" x2="483.9" y2="330.7" stroke="#222" stroke-width="1.0"/>
<path d="M483.2,330.3 L484.3,330.5 L485.3,330.4 L486.4,330.4 L487.4,330.9 L488.5,331.1 L489.5,330.4 L490.5,330.3 L491.6,330.9 L492.6,330.3 L493.7,330.2 L494.7,331.1" class="w" style="stroke-width:3.0;stroke:#000"/>
<path d="M494.7,330.7 L494.9,370.3 L495.0,393.7" class="w" style="stroke-width:0.9;stroke:#555"/>
<path d="M495.2,370.3 L495.7,380.8 L496.6,382.7 L498.0,382.5 L498.7,380.8" class="w" style="stroke-width:1.8;stroke:#111"/>
<path d="M498.5,383.4 L498.8,360.9 L499.4,346.8 L500.3,337.5 L502.9,332.3 L503.4,330.7" class="w" style="stroke-width:1.5;stroke:#111"/>
<line x1="502.9" y1="322.3" x2="502.9" y2="330.7" stroke="#222" stroke-width="1.0"/>
<path d="M503.1,330.4 L504.2,330.8 L505.2,330.4 L506.2,330.9 L507.2,330.5 L508.3,330.2 L509.3,330.1 L510.3,330.7 L511.3,330.8 L512.3,331.1 L513.4,330.3 L514.4,330.8" class="w" style="stroke-width:3.0;stroke:#000"/>
<line x1="514.6" y1="330.7" x2="514.6" y2="392.5" stroke="#777" stroke-width="0.9"/>
<path d="M514.4,330.7 L515.3,335.1 L516.5,345.7 L517.7,356.2 L518.8,365.6 L519.5,369.8 L521.7,370.5 L522.4,375.0 L523.3,379.6" class="w" style="stroke-width:2.0;stroke:#111"/>
<path d="M523.3,379.5 L524.4,379.6 L525.5,379.4 L526.6,379.5 L527.7,379.7 L528.8,380.0 L529.9,379.3 L531.0,379.6 L532.1,379.9 L533.2,380.0 L534.3,379.4 L535.4,379.3 L536.5,380.0 L537.6,380.0 L538.7,379.6 L539.8,379.3 L540.9,380.0 L542.0,379.6 L543.1,380.0 L544.2,379.7 L545.3,379.9 L546.4,379.4 L547.5,379.9 L548.6,379.4 L549.7,379.6 L550.8,379.9 L551.9,379.9 L553.1,379.4 L554.2,379.4 L555.3,379.6 L556.4,379.7 L557.5,379.6 L558.6,379.3 L559.7,379.4 L560.8,379.8 L561.9,380.0 L563.0,379.3 L564.1,379.7 L565.2,379.8 L566.3,379.3 L567.4,379.9 L568.5,379.3 L569.6,379.7 L570.7,379.7 L571.8,379.7 L572.9,379.5 L574.0,379.6 L575.1,379.7 L576.2,379.6 L577.3,379.8 L578.4,379.6 L579.5,379.6 L580.6,379.3 L581.7,379.7 L582.8,379.6 L583.9,379.4 L585.0,379.9 L586.1,379.9 L587.2,379.6 L588.3,379.4 L589.4,379.6 L590.5,379.3 L591.6,379.3 L592.7,379.6 L593.8,379.3 L594.9,379.6 L596.0,379.7 L597.1,379.3 L598.2,379.8 L599.3,379.3 L600.4,379.8 L601.5,379.9 L602.6,379.7 L603.7,379.3 L604.9,379.6 L606.0,379.5 L607.1,380.0 L608.2,379.4 L609.3,379.9 L610.4,380.0 L611.5,379.8 L612.6,379.9 L613.7,379.4 L614.8,380.0 L615.9,379.6 L617.0,380.0 L618.1,380.0 L619.2,379.4 L620.3,379.9 L621.4,380.0 L622.5,379.3 L623.6,379.5 L624.7,379.8 L625.8,379.4 L626.9,380.0 L628.0,379.5 L629.1,379.9 L630.2,379.4 L631.3,379.6 L632.4,380.0 L633.5,379.4 L634.6,379.5 L635.7,379.6 L636.8,379.5 L637.9,379.3 L639.0,379.4 L640.1,379.4 L641.2,380.0 L642.3,379.8 L643.4,380.0 L644.5,379.4 L645.6,379.9 L646.7,379.3 L647.8,379.7 L648.9,379.8 L650.0,379.5 L651.1,379.9 L652.2,379.7 L653.3,379.7 L654.4,379.9 L655.5,379.3 L656.7,380.0 L657.8,379.7 L658.9,379.6 L660.0,379.9 L661.1,379.5 L662.2,380.0 L663.3,379.7 L664.4,379.5 L665.5,379.9 L666.6,379.6 L667.7,379.4 L668.8,379.8 L669.9,379.3 L671.0,379.9 L672.1,379.4 L673.2,379.8 L674.3,380.0 L675.4,379.7 L676.5,379.8 L677.6,379.5 L678.7,379.2 L679.8,379.3 L680.9,379.4 L682.0,379.7" class="w" style="stroke-width:3.0;stroke:#000"/>
<circle cx="363.3" cy="319.9" r="3.4" fill="#000"/><polygon points="364.3,317.09999999999997 370.1,319.9 364.3,322.7" fill="#000"/>
<circle cx="363.3" cy="401.2" r="3.4" fill="#000"/><polygon points="364.3,398.4 370.1,401.2 364.3,404.0" fill="#000"/>
<line x1="621.2" y1="239.5" x2="647.8" y2="239.5" stroke="#111" stroke-width="1.5"/><polygon points="618.2,239.5 624.7,236.5 624.7,242.5" fill="#111"/><polygon points="650.8,239.5 644.3,236.5 644.3,242.5" fill="#111"/>
<text x="634.8" y="234.8" class="s" text-anchor="middle">1 ms</text>
<rect x="579" y="257" width="100" height="11" fill="#fff"/>
<text x="678.2" y="265.2" class="s" text-anchor="end">BLE Voltage (1 V/div)</text>
<rect x="573" y="383" width="106.5" height="11" fill="#fff"/>
<text x="678.6" y="391.3" class="s" text-anchor="end">BLE Current (5 mA/div)</text>
<rect x="459.5" y="278" width="65.5" height="12" fill="#fff"/>
<text x="492" y="288.7" class="s" text-anchor="middle">Zoomed BLE</text>
<text x="492.7" y="300.9" class="s" text-anchor="middle">Transmit</text>
<line x1="491" y1="304.8" x2="491" y2="314.4" stroke="#111" stroke-width="1.9"/><polygon points="491,317.4 488.1,312.0 493.9,312.0" fill="#111"/>
<text x="423.9" y="236.5" class="sb" text-anchor="middle">B</text>
<text x="444.4" y="236.5" class="sb" text-anchor="middle">C</text>
<text x="492.4" y="236.5" class="sb" text-anchor="middle">D</text>
<polygon points="675.3,343 678.5,341.7 678.5,344.3" fill="#222"/>
<g>
<circle cx="594" cy="403.5" r="18" fill="#fff" fill-opacity="0.62" stroke="#d2d2d2" stroke-width="1.2"/>
<path d="M585.6,403.6 L591.2,399.3 M591.2,399.3 L597.4,409.8 M597.4,409.8 L601.3,404.6" fill="none" stroke="#c4c4c4" stroke-width="1.3" stroke-linecap="round"/>
<circle cx="583.8" cy="404.7" r="2.3" fill="#fff" stroke="#c0c0c0" stroke-width="1.1"/><circle cx="603.1" cy="403.6" r="2.3" fill="#fff" stroke="#c0c0c0" stroke-width="1.1"/>
<g font-family="'Liberation Sans','Noto Sans CJK SC',sans-serif" font-size="16.6" font-style="italic">
<text x="617.5" y="406.3" fill="#fff" stroke="#fff" stroke-width="4" stroke-opacity="0.7" stroke-linejoin="round">电子发烧友</text>
<text x="617.5" y="406.3" fill="#fdfdfd" stroke="#bdbdbd" stroke-width="0.9">电子发烧友</text>
</g>
<g font-family="'Liberation Sans',sans-serif" font-size="11.8" font-weight="bold">
<text x="617.5" y="420" fill="#fff" stroke="#fff" stroke-width="3.6" stroke-opacity="0.75" stroke-linejoin="round" textLength="96.5" lengthAdjust="spacingAndGlyphs">www.elecfans.com</text>
<text x="617.5" y="420" fill="#efefef" stroke="#bcbcbc" stroke-width="0.7" textLength="96.5" lengthAdjust="spacingAndGlyphs">www.elecfans.com</text>
</g>
</g>
</svg>
</div>
</body></html>
